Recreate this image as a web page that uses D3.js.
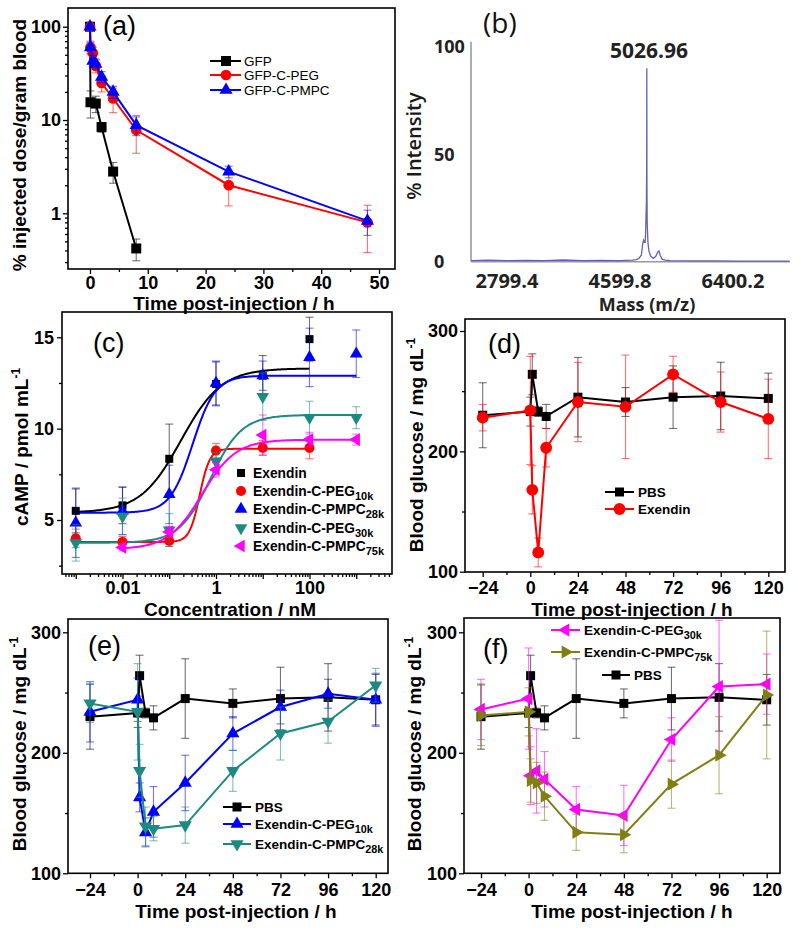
<!DOCTYPE html>
<html><head><meta charset="utf-8">
<script src="https://cdn.jsdelivr.net/npm/d3@7"></script>
<style>body{margin:0;background:#fff}</style>
</head><body>
<script>
// ================= DATA =================
// (a) blood circulation
const aTime = [0, 0.083, 0.5, 1, 2, 4, 8, 24, 48];
const aGFPTime = [0, 0.083, 1, 2, 4, 8];
const aGFP = [100, 15.5, 15, 8.4, 2.8, 0.42];
const aGFPErr = [0, 5, 3, 1, 0.7, 0.11];
const aPEG = [100, 60, 52, 38, 25, 17, 7.8, 2.0, 0.8];
const aPEGErr = [0, 10, 8, 6, 5, 5, 3.4, 0.8, 0.42];
const aPMPC = [100, 60, 43, 40, 29, 20, 8.8, 2.8, 0.83];
const aPMPCErr = [0, 8, 6, 5, 4, 3, 2, 0.4, 0.25];
const aXTicks = [0, 10, 20, 30, 40, 50];
const aYTicks = [1, 10, 100];

// (b) mass spectrum
const bMass = [2230, 2500, 2800, 3100, 3400, 3700, 4000, 4300, 4600, 4800, 4860, 4900, 4940, 4960, 4975, 4990, 5000, 5008, 5015, 5021, 5025, 5027, 5029, 5033, 5045, 5060, 5090, 5130, 5170, 5200, 5220, 5240, 5270, 5320, 5400, 5700, 6100, 6500, 6900, 7300];
const bInt = [0.5, 0.7, 0.5, 0.6, 0.5, 0.8, 0.5, 0.6, 0.5, 0.7, 1.0, 1.5, 3, 8, 10, 9, 9, 13, 22, 28, 45, 90, 35, 18, 9, 5, 2.5, 1.5, 2.5, 4.5, 5, 3, 1.2, 0.7, 0.5, 0.4, 0.4, 0.3, 0.3, 0.3];
const bPeakLabel = "5026.96";
const bXTicks = [2799.4, 4599.8, 6400.2];
const bYTicks = [0, 50, 100];

// (c) cAMP dose response
const cConc = [0.001, 0.01, 0.1, 1, 10, 100, 1000];
const cExendin = [5.5, 5.8, 8.35, 12.45, 12.9, 14.9];
const cExendinErr = [1.2, 1.0, 1.9, 1.2, 1.1, 1.2];
const cPEG10k = [4.0, 3.8, 3.85, 8.8, 8.95, 8.95];
const cPEG10kErr = [0.5, 0.3, 0.3, 0.4, 0.4, 0.6];
const cPMPC28k = [4.85, 5.5, 6.4, 12.5, 12.9, 13.9, 14.1];
const cPMPC28kErr = [1.9, 1.3, 1.6, 1.2, 0.8, 1.6, 1.3];
const cPEG30k = [3.75, 5.2, 4.45, 8.2, 11.75, 10.6, 10.6];
const cPEG30kErr = [1.0, 1.0, 0.9, 0.5, 1.3, 0.9, 0.6];
const cPMPC75kConc = [0.01, 0.1, 1, 10, 100, 1000];
const cPMPC75k = [3.5, 4.35, 7.75, 9.65, 9.4, 9.4];
const cPMPC75kErr = [0.2, 0.3, 0.4, 1.1, 0.4, 0.3];
// 4-parameter logistic fits: [bottom, top, logEC50, hill, fromConc, toConc]
const cFitExendin = [5.4, 13.3, -0.75, 1.0, 0.001, 100];
const cFitPEG10k = [3.8, 8.9, -0.35, 4.0, 0.001, 100];
const cFitPMPC28k = [5.4, 12.9, -0.5, 1.8, 0.001, 1000];
const cFitPEG30k = [3.75, 10.75, -0.12, 1.3, 0.001, 1000];
const cFitPMPC75k = [3.4, 9.4, -0.3, 1.2, 0.01, 1000];
const cXTickLabels = [0.01, 1, 100];
const cYTicks = [5, 10, 15];

// (d)-(f) blood glucose
const gTime = [-24, 0, 1, 4, 8, 24, 48, 72, 96, 120];
const gXTicks = [-24, 0, 24, 48, 72, 96, 120];
const gYTicks = [100, 200, 300];
const gPBS = [230, 233, 264, 233, 229, 245, 241, 245, 246, 244];
const gPBSErr = [27, 12, 17, 4, 10, 33, 12, 26, 28, 21];
const dExendin = [228, 234, 168, 116, 203, 241, 237, 264, 241, 227];
const dExendinErr = [11, 45, 20, 12, 16, 33, 43, 15, 25, 33];
const ePEG10k = [234, 244, 163, 134, 151, 175, 216, 238, 249, 244];
const ePEG10kErr = [25, 18, 12, 12, 21, 23, 14, 14, 12, 22];
const ePMPC28k = [241, 234, 185, 139, 137, 140, 185, 216, 226, 256];
const ePMPC28kErr = [16, 40, 22, 16, 10, 15, 17, 22, 18, 14];
const fPEG30k = [236, 245, 181, 185, 178, 153, 148, 211, 255, 257];
const fPEG30kErr = [25, 42, 24, 35, 23, 19, 25, 18, 55, 25];
const fPMPC75k = [231, 234, 177, 175, 164, 134, 132, 174, 198, 248];
const fPMPC75kErr = [25, 20, 18, 17, 20, 15, 15, 20, 32, 53];

// ================= STYLE =================
const FONT = "'Liberation Sans', Arial, sans-serif";
const BFONT = "'Open Sans', Lato, sans-serif";
const C = {black:"#000", red:"#ff0000", blue:"#0000ff", teal:"#1d8a82", magenta:"#ff00ff", olive:"#808012"};
const TICK = 18, TITLE = 19;

const svg = d3.select("body").append("svg").attr("width", 800).attr("height", 929);

function symPath(shape, size) {
  const type = (shape === "square") ? d3.symbolSquare : (shape === "circle") ? d3.symbolCircle : d3.symbolTriangle;
  return d3.symbol().type(type).size(size)();
}
const ROT = {up:0, down:180, left:-90, right:90, square:0, circle:0};

function marker(g, X, Y, shape, size, color) {
  g.append("path").attr("d", symPath(shape, size))
    .attr("transform", `translate(${X},${Y}) rotate(${ROT[shape]})`)
    .attr("fill", color);
}

function errorBars(g, x, y, xs, vs, es, color, cap) {
  xs.forEach((xv, i) => {
    const e = es[i]; if (!e) return;
    const X = x(xv), y1 = y(vs[i] - e), y2 = y(vs[i] + e);
    const eg = g.append("g").attr("stroke", color).attr("stroke-opacity", 0.55).attr("stroke-width", 1.1);
    eg.append("line").attr("x1", X).attr("x2", X).attr("y1", y1).attr("y2", y2);
    eg.append("line").attr("x1", X - cap).attr("x2", X + cap).attr("y1", y1).attr("y2", y1);
    eg.append("line").attr("x1", X - cap).attr("x2", X + cap).attr("y1", y2).attr("y2", y2);
  });
}

function series(g, x, y, s, opt) {
  const pts = s.x.map((xv, i) => [xv, s.v[i]]);
  if (opt.line) {
    g.append("path").datum(pts)
      .attr("d", d3.line().x(d => x(d[0])).y(d => y(d[1])))
      .attr("fill", "none").attr("stroke", s.color).attr("stroke-width", 2);
  }
  errorBars(g, x, y, s.x, s.v, s.e, s.color, opt.cap);
  pts.forEach(d => marker(g, x(d[0]), y(d[1]), s.shape, opt.size[s.shape], s.color));
}

function styleAxis(sel, size) {
  sel.attr("font-family", FONT).attr("font-size", size).attr("font-weight", "bold");
  sel.selectAll("text").attr("fill", "#000");
  sel.selectAll("line").attr("stroke", "#000").attr("stroke-width", 1.3);
  sel.select(".domain").remove();
}

function frame(g, p) {
  g.append("rect").attr("x", p.l).attr("y", p.t).attr("width", p.r - p.l).attr("height", p.b - p.t)
    .attr("fill", "none").attr("stroke", "#000").attr("stroke-width", 1.6);
}

function panelLabel(g, txt, X, Y, size) {
  g.append("text").attr("x", X).attr("y", Y).attr("font-family", FONT).attr("font-size", size || 27).text(txt);
}

function xTitle(g, txt, X, Y) {
  g.append("text").attr("x", X).attr("y", Y).attr("text-anchor", "middle")
    .attr("font-family", FONT).attr("font-weight", "bold").attr("font-size", TITLE).text(txt);
}
function yTitle(g, txt, sup, X, Y) {
  const t = g.append("text").attr("transform", `translate(${X},${Y}) rotate(-90)`).attr("text-anchor", "middle")
    .attr("font-family", FONT).attr("font-weight", "bold").attr("font-size", TITLE);
  t.append("tspan").text(txt);
  if (sup) t.append("tspan").attr("dy", -8).attr("font-size", 12).text(sup);
}

function legendText(g, X, Y, name, sub, size, weight) {
  const t = g.append("text").attr("x", X).attr("y", Y).attr("dy", "0.35em")
    .attr("font-family", FONT).attr("font-size", size).attr("font-weight", weight);
  t.append("tspan").text(name);
  if (sub) t.append("tspan").attr("dy", 4).attr("font-size", size * 0.8).text(sub);
}

// ================= PANEL (a) =================
(function() {
  const p = {l:68, t:8, r:395, b:269};
  const g = svg.append("g");
  const x = d3.scaleLinear().domain([0, 50]).range([90, 379]);
  const y = d3.scaleLog().domain([1, 100]).range([213.3, 26.7]);
  const yMinor = [];
  [0.1, 1, 10, 100].forEach(dec => [2,3,4,5,6,7,8,9].forEach(k => { const v = dec * k; if (y(v) < p.b && y(v) > p.t) yMinor.push(v); }));
  const ax = g.append("g").attr("transform", `translate(0,${p.b})`)
    .call(d3.axisBottom(x).tickValues(aXTicks).tickFormat(d3.format("d")).tickSize(5).tickPadding(2));
  styleAxis(ax, TICK);
  const axm = g.append("g").attr("transform", `translate(0,${p.b})`)
    .call(d3.axisBottom(x).tickValues([5, 15, 25, 35, 45]).tickFormat("").tickSize(3));
  styleAxis(axm, TICK);
  const ay = g.append("g").attr("transform", `translate(${p.l},0)`)
    .call(d3.axisLeft(y).tickValues(aYTicks).tickFormat(d3.format("d")).tickSize(5).tickPadding(2));
  styleAxis(ay, TICK);
  const aym = g.append("g").attr("transform", `translate(${p.l},0)`)
    .call(d3.axisLeft(y).tickValues(yMinor).tickFormat("").tickSize(3));
  styleAxis(aym, TICK);
  frame(g, p);
  const opt = {line:true, cap:4, size:{square:100, circle:90, up:75}};
  const S = [
    {name:"GFP", x:aGFPTime, v:aGFP, e:aGFPErr, color:C.black, shape:"square"},
    {name:"GFP-C-PEG", x:aTime, v:aPEG, e:aPEGErr, color:C.red, shape:"circle"},
    {name:"GFP-C-PMPC", x:aTime, v:aPMPC, e:aPMPCErr, color:C.blue, shape:"up"}
  ];
  S.forEach(s => series(g, x, y, s, opt));
  const ly = [61, 75, 90];
  S.forEach((s, i) => {
    g.append("line").attr("x1", 210).attr("x2", 241).attr("y1", ly[i]).attr("y2", ly[i]).attr("stroke", s.color).attr("stroke-width", 2);
    marker(g, 226, ly[i], s.shape, opt.size[s.shape], s.color);
    legendText(g, 244, ly[i], s.name, "", 13.5, "normal");
  });
  panelLabel(g, "(a)", 103, 35, 27);
  xTitle(g, "Time post-injection / h", 234, 310);
  yTitle(g, "% injected dose/gram blood", "", 26, 145);
})();

// ================= PANEL (b) =================
(function() {
  const g = svg.append("g");
  const x = d3.scaleLinear().domain([2799.4, 6400.2]).range([507, 733]);
  const y = d3.scaleLinear().domain([0, 100]).range([261.7, 46.7]);
  const x0 = 2226, x1 = 7308;
  g.append("line").attr("x1", x(x0)).attr("x2", x(x1)).attr("y1", y(0)).attr("y2", y(0)).attr("stroke", "#9a9a9a").attr("stroke-width", 1.6);
  g.append("line").attr("x1", x(x0)).attr("x2", x(x0)).attr("y1", y(0)).attr("y2", y(102.3)).attr("stroke", "#9a9a9a").attr("stroke-width", 1.6);
  const pts = bMass.map((m, i) => [m, bInt[i]]);
  g.append("path").datum(pts).attr("d", d3.line().x(d => x(d[0])).y(d => y(d[1])))
    .attr("fill", "none").attr("stroke", "#6262b0").attr("stroke-width", 1.3);
  bXTicks.forEach(v => g.append("text").attr("x", x(v)).attr("y", 288).attr("text-anchor", "middle")
    .attr("font-family", BFONT).attr("font-weight", "bold").attr("font-size", 20).attr("fill", "#222").text(v.toFixed(1)));
  bYTicks.forEach(v => g.append("text").attr("x", 434).attr("y", y(v)).attr("dy", "0.35em")
    .attr("font-family", BFONT).attr("font-weight", "bold").attr("font-size", 18).attr("fill", "#222").text(v));
  g.append("text").attr("x", 649).attr("y", 58).attr("text-anchor", "middle")
    .attr("font-family", BFONT).attr("font-weight", "bold").attr("font-size", 21).attr("fill", "#222").text(bPeakLabel);
  g.append("text").attr("x", 647).attr("y", 311).attr("text-anchor", "middle")
    .attr("font-family", BFONT).attr("font-weight", "bold").attr("font-size", 18).attr("fill", "#222").text("Mass (m/z)");
  g.append("text").attr("transform", "translate(421,146) rotate(-90)").attr("text-anchor", "middle")
    .attr("font-family", BFONT).attr("font-weight", 600).attr("font-size", 20).attr("fill", "#1a1a1a").text("% Intensity");
  g.append("text").attr("x", 483).attr("y", 33).attr("font-family", BFONT).attr("font-size", 28).attr("fill", "#111").text("(b)");
})();

// ================= PANEL (c) =================
(function() {
  const p = {l:62, t:312, r:392, b:574};
  const g = svg.append("g");
  const x = d3.scaleLog().domain([0.01, 100]).range([122.5, 309.5]);
  const y = d3.scaleLinear().domain([5, 15]).range([520, 337.3]);
  const decades = [0.001, 0.01, 0.1, 1, 10, 100, 1000];
  const minor = [];
  [0.0001, 0.001, 0.01, 0.1, 1, 10, 100, 1000].forEach(dec => [2,3,4,5,6,7,8,9].forEach(k => { const v = dec * k; if (x(v) > p.l && x(v) < p.r) minor.push(v); }));
  const ax = g.append("g").attr("transform", `translate(0,${p.b})`)
    .call(d3.axisBottom(x).tickValues(decades).tickFormat(d => cXTickLabels.includes(d) ? String(d) : "").tickSize(5).tickPadding(2));
  styleAxis(ax, TICK);
  const axm = g.append("g").attr("transform", `translate(0,${p.b})`)
    .call(d3.axisBottom(x).tickValues(minor).tickFormat("").tickSize(3));
  styleAxis(axm, TICK);
  const ay = g.append("g").attr("transform", `translate(${p.l},0)`)
    .call(d3.axisLeft(y).tickValues(cYTicks).tickSize(5).tickPadding(3));
  styleAxis(ay, TICK);
  const aym = g.append("g").attr("transform", `translate(${p.l},0)`)
    .call(d3.axisLeft(y).tickValues([2.5, 7.5, 12.5]).tickFormat("").tickSize(3));
  styleAxis(aym, TICK);
  frame(g, p);
  const S = [
    {name:"Exendin", sub:"", x:cConc.slice(0, 6), v:cExendin, e:cExendinErr, color:C.black, shape:"square", fit:cFitExendin},
    {name:"Exendin-C-PEG", sub:"10k", x:cConc.slice(0, 6), v:cPEG10k, e:cPEG10kErr, color:C.red, shape:"circle", fit:cFitPEG10k},
    {name:"Exendin-C-PMPC", sub:"28k", x:cConc, v:cPMPC28k, e:cPMPC28kErr, color:C.blue, shape:"up", fit:cFitPMPC28k},
    {name:"Exendin-C-PEG", sub:"30k", x:cConc, v:cPEG30k, e:cPEG30kErr, color:C.teal, shape:"down", fit:cFitPEG30k},
    {name:"Exendin-C-PMPC", sub:"75k", x:cPMPC75kConc, v:cPMPC75k, e:cPMPC75kErr, color:C.magenta, shape:"left", fit:cFitPMPC75k}
  ];
  const opt = {line:false, cap:4, size:{square:64, circle:80, up:70, down:70, left:70}};
  S.forEach(s => {
    const [bot, top, ec, h, lo, hi] = s.fit;
    const N = 160, l0 = Math.log10(lo), l1 = Math.log10(hi);
    const pts = d3.range(N + 1).map(i => { const lx = l0 + (l1 - l0) * i / N; return [Math.pow(10, lx), bot + (top - bot) / (1 + Math.pow(10, (ec - lx) * h))]; });
    g.append("path").datum(pts).attr("d", d3.line().x(d => x(d[0])).y(d => y(d[1])))
      .attr("fill", "none").attr("stroke", s.color).attr("stroke-width", 2);
  });
  S.forEach(s => series(g, x, y, s, opt));
  const ly = [473, 491, 509, 528, 546];
  S.forEach((s, i) => {
    marker(g, 241, ly[i], s.shape, opt.size[s.shape], s.color);
    legendText(g, 253, ly[i], s.name, s.sub, 13.8, "bold");
  });
  panelLabel(g, "(c)", 93, 352, 27);
  xTitle(g, "Concentration / nM", 230, 615.5);
  yTitle(g, "cAMP / pmol mL", "-1", 28, 447);
})();

// ================= PANELS (d)(e)(f) =================
function glucosePanel(cfg) {
  const p = cfg.p;
  const g = svg.append("g");
  const x = d3.scaleLinear().domain([-24, 120]).range(cfg.xr);
  const y = d3.scaleLinear().domain([100, 300]).range(cfg.yr);
  const ax = g.append("g").attr("transform", `translate(0,${p.b})`)
    .call(d3.axisBottom(x).tickValues(gXTicks).tickSize(5).tickPadding(cfg.xpad));
  styleAxis(ax, TICK);
  const axm = g.append("g").attr("transform", `translate(0,${p.b})`)
    .call(d3.axisBottom(x).tickValues([-12, 12, 36, 60, 84, 108]).tickFormat("").tickSize(3));
  styleAxis(axm, TICK);
  const ay = g.append("g").attr("transform", `translate(${p.l},0)`)
    .call(d3.axisLeft(y).tickValues(gYTicks).tickSize(5).tickPadding(2));
  styleAxis(ay, TICK);
  const aym = g.append("g").attr("transform", `translate(${p.l},0)`)
    .call(d3.axisLeft(y).tickValues([150, 250]).tickFormat("").tickSize(3));
  styleAxis(aym, TICK);
  frame(g, p);
  const opt = {line:true, cap:4, size:{square:81, circle:110, up:75, down:75, left:75, right:75}};
  cfg.draw.forEach(s => series(g, x, y, s, opt));
  cfg.legend.forEach(L => {
    const s = L.s;
    g.append("line").attr("x1", L.x1).attr("x2", L.x2).attr("y1", L.y).attr("y2", L.y).attr("stroke", s.color).attr("stroke-width", 2);
    marker(g, (L.x1 + L.x2) / 2, L.y, s.shape, opt.size[s.shape], s.color);
    legendText(g, L.x2 + 4, L.y, s.name, s.sub, 13.5, "bold");
  });
  panelLabel(g, cfg.label, cfg.lx, cfg.ly, 27);
  xTitle(g, "Time post-injection / h", cfg.tx, cfg.ty);
  yTitle(g, "Blood glucose / mg dL", "-1", cfg.yx, cfg.yy);
}

const sPBS = {name:"PBS", sub:"", x:gTime, v:gPBS, e:gPBSErr, color:C.black, shape:"square"};

// (d)
(function() {
  const sEx = {name:"Exendin", sub:"", x:gTime, v:dExendin, e:dExendinErr, color:C.red, shape:"circle"};
  glucosePanel({
    p:{l:465, t:319, r:785, b:572}, xr:[482.7, 768.3], yr:[571.7, 331], xpad:4,
    draw:[sPBS, sEx],
    legend:[{s:sPBS, x1:605, x2:634, y:492}, {s:sEx, x1:605, x2:634, y:509}],
    label:"(d)", lx:488, ly:353, tx:632, ty:616, yx:423, yy:445
  });
})();

// (e)
(function() {
  const sA = {name:"Exendin-C-PEG", sub:"10k", x:gTime, v:ePEG10k, e:ePEG10kErr, color:C.blue, shape:"up"};
  const sB = {name:"Exendin-C-PMPC", sub:"28k", x:gTime, v:ePMPC28k, e:ePMPC28kErr, color:C.teal, shape:"down"};
  glucosePanel({
    p:{l:68, t:619, r:388, b:873.3}, xr:[90, 375.7], yr:[873.3, 632.3], xpad:5,
    draw:[sPBS, sA, sB],
    legend:[{s:sPBS, x1:223, x2:251, y:807}, {s:sA, x1:223, x2:251, y:824}, {s:sB, x1:223, x2:251, y:844}],
    label:"(e)", lx:88, ly:655, tx:236, ty:918, yx:26, yy:744
  });
})();

// (f)
(function() {
  const sA = {name:"Exendin-C-PEG", sub:"30k", x:gTime, v:fPEG30k, e:fPEG30kErr, color:C.magenta, shape:"left"};
  const sB = {name:"Exendin-C-PMPC", sub:"75k", x:gTime, v:fPMPC75k, e:fPMPC75kErr, color:C.olive, shape:"right"};
  glucosePanel({
    p:{l:464, t:618, r:780, b:873.3}, xr:[481, 766.7], yr:[873.3, 632.3], xpad:5,
    draw:[sPBS, sA, sB],
    legend:[{s:sA, x1:551, x2:580, y:630}, {s:sB, x1:551, x2:580, y:652}, {s:sPBS, x1:602, x2:630, y:675}],
    label:"(f)", lx:483, ly:658, tx:632, ty:918, yx:421, yy:744
  });
})();
</script>
</body></html>
